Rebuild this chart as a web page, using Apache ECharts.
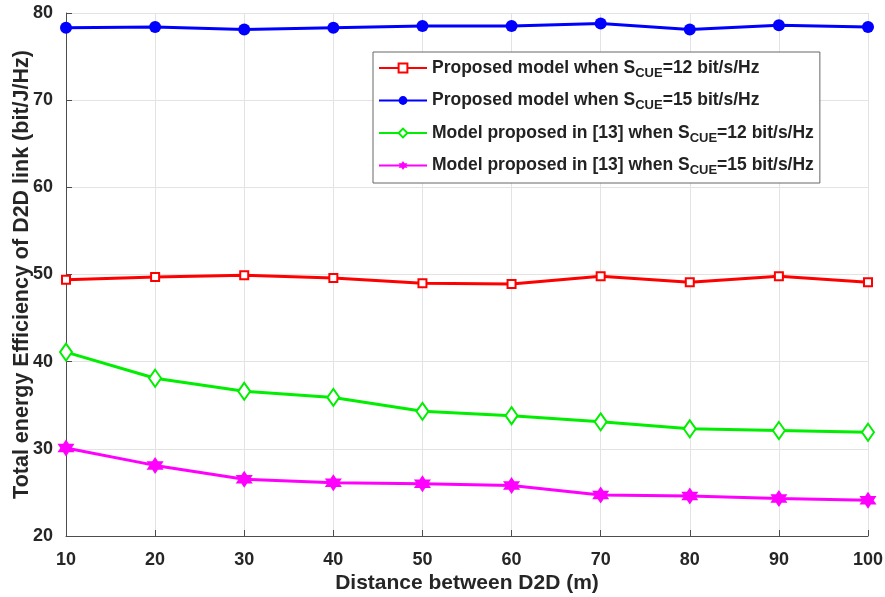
<!DOCTYPE html>
<html>
<head>
<meta charset="utf-8">
<script src="https://cdn.jsdelivr.net/npm/echarts@6/dist/echarts.min.js"></script>
<style>
  html, body { margin: 0; padding: 0; background: #fff; }
  #chart { width: 885px; height: 597px; }
</style>
</head>
<body>
<div id="chart"></div>
<script>
// 横轴：D2D 距离 (m)
const distances = [10, 20, 30, 40, 50, 60, 70, 80, 90, 100];
// 各曲线数值 (bit/J/Hz)
const proposed12 = [49.4, 49.7, 49.9, 49.6, 49.0, 48.9, 49.8, 49.1, 49.8, 49.1];
const proposed15 = [78.3, 78.4, 78.1, 78.3, 78.5, 78.5, 78.8, 78.1, 78.6, 78.4];
const ref13_12 = [41.1, 38.1, 36.6, 35.9, 34.3, 33.8, 33.1, 32.3, 32.1, 31.9];
const ref13_15 = [30.1, 28.1, 26.5, 26.1, 26.0, 25.8, 24.7, 24.6, 24.3, 24.1];
const seriesNames = [
  "Proposed model when S_CUE=12",
  "Proposed model when S_CUE=15",
  "Model proposed in [13] when S_CUE=12",
  "Model proposed in [13] when S_CUE=15"
];
// 图例富文本（下标 CUE）
const legendLabels = [
  "Proposed model when S{sub|CUE}=12 bit/s/Hz",
  "Proposed model when S{sub|CUE}=15 bit/s/Hz",
  "Model proposed in [13] when S{sub|CUE}=12 bit/s/Hz",
  "Model proposed in [13] when S{sub|CUE}=15 bit/s/Hz"
];

const hexagram = "path://M0,-10 L2.9,-5 L8.66,-5 L5.77,0 L8.66,5 L2.9,5 L0,10 L-2.9,5 L-8.66,5 L-5.77,0 L-8.66,-5 L-2.9,-5 Z";
const toPoints = arr => arr.map((v, i) => [distances[i], v]);

const chart = echarts.init(document.getElementById("chart"));
const font = "Liberation Sans, Arial, sans-serif";

const option = {
  animation: false,
  backgroundColor: "#fff",
  grid: { left: 66, right: 17, top: 13, bottom: 61, containLabel: false, outerBoundsMode: "none" },
  legend: {
    orient: "vertical",
    left: 373,
    top: 52,
    data: seriesNames,
    itemWidth: 48,
    itemHeight: 11,
    itemGap: 12,
    padding: [7, 6, 6, 5],
    backgroundColor: "#fff",
    borderColor: "#666",
    borderWidth: 1,
    formatter: name => legendLabels[seriesNames.indexOf(name)],
    textStyle: {
      fontFamily: font,
      fontWeight: "bold",
      fontSize: 17.5,
      color: "#222",
      rich: {
        sub: { fontFamily: font, fontWeight: "bold", fontSize: 13, color: "#222", padding: [10, 0, 0, 0] }
      }
    }
  },
  xAxis: {
    type: "value",
    min: 10,
    max: 100,
    interval: 10,
    name: "Distance between D2D (m)",
    nameLocation: "middle",
    nameGap: 37,
    nameMoveOverlap: false,
    nameTextStyle: { fontFamily: font, fontWeight: "bold", fontSize: 21, color: "#262626" },
    axisLine: { show: true, lineStyle: { color: "#4d4d4d", width: 1 } },
    axisTick: { show: true, inside: true, length: 6, lineStyle: { color: "#4d4d4d" } },
    axisLabel: { fontFamily: font, fontWeight: "bold", fontSize: 18, color: "#262626", margin: 15 },
    splitLine: { show: true, lineStyle: { color: "#e3e3e3", width: 1 } }
  },
  yAxis: {
    type: "value",
    min: 20,
    max: 80,
    interval: 10,
    name: "Total energy Efficiency of D2D link (bit/J/Hz)",
    nameLocation: "middle",
    nameGap: 33,
    nameMoveOverlap: false,
    nameTextStyle: { fontFamily: font, fontWeight: "bold", fontSize: 21.5, color: "#262626" },
    axisLine: { show: true, lineStyle: { color: "#4d4d4d", width: 1 } },
    axisTick: { show: true, inside: true, length: 6, lineStyle: { color: "#4d4d4d" } },
    axisLabel: { fontFamily: font, fontWeight: "bold", fontSize: 18, color: "#262626", margin: 13 },
    splitLine: { show: true, lineStyle: { color: "#e3e3e3", width: 1 } }
  },
  series: [
    {
      name: seriesNames[0],
      type: "line",
      data: toPoints(proposed12),
      symbol: "emptyRect",
      symbolSize: 8,
      color: "#ff0000",
      lineStyle: { width: 3, color: "#ff0000" },
      itemStyle: { color: "#ff0000", borderWidth: 2 }
    },
    {
      name: seriesNames[1],
      type: "line",
      data: toPoints(proposed15),
      symbol: "circle",
      symbolSize: 12,
      color: "#0000ff",
      lineStyle: { width: 3, color: "#0000ff" },
      itemStyle: { color: "#0000ff" }
    },
    {
      name: seriesNames[2],
      type: "line",
      data: toPoints(ref13_12),
      symbol: "emptyDiamond",
      symbolSize: [12, 17],
      color: "#00ee00",
      lineStyle: { width: 3, color: "#00ee00" },
      itemStyle: { color: "#00ee00", borderWidth: 2.5 }
    },
    {
      name: seriesNames[3],
      type: "line",
      data: toPoints(ref13_15),
      symbol: hexagram,
      symbolSize: 17,
      color: "#ff00ff",
      lineStyle: { width: 3, color: "#ff00ff" },
      itemStyle: { color: "#ff00ff" }
    }
  ]
};

chart.setOption(option);
</script>
</body>
</html>
